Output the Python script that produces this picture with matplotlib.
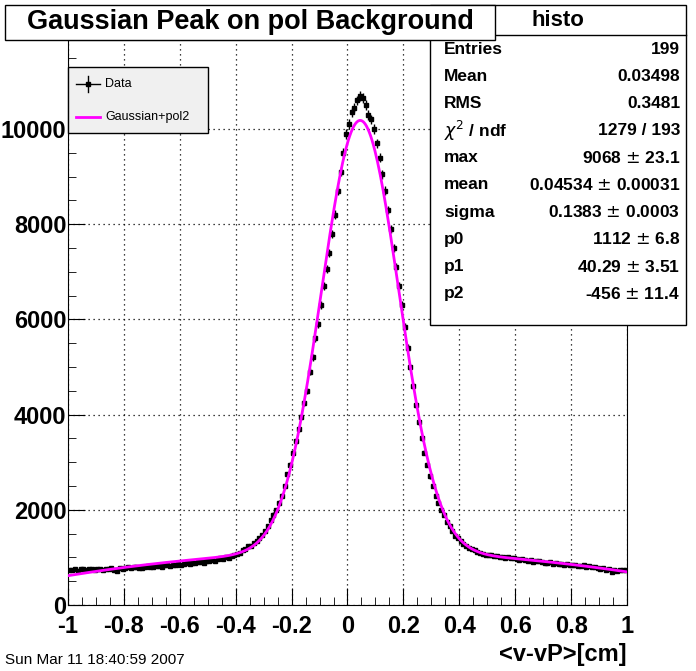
import matplotlib
matplotlib.use("Agg")
import matplotlib.pyplot as plt
import numpy as np
from matplotlib.patches import Rectangle

W, H = 696, 671

# histogram contents, 200 bins of width 0.01 on [-1, 1]
counts = [
    740, 730, 750, 720, 760, 750, 740, 760, 750, 740,
    760, 750, 740, 760, 750, 770, 740, 720, 770, 760,
    780, 790, 770, 800, 790, 780, 770, 800, 810, 790,
    800, 820, 810, 790, 830, 840, 820, 850, 830, 860,
    850, 870, 880, 860, 890, 880, 900, 910, 890, 920,
    930, 950, 920, 960, 980, 970, 1000, 990, 1020, 1050,
    1080, 1100, 1150, 1180, 1230, 1250, 1300, 1350, 1400, 1480,
    1560, 1650, 1780, 1900, 2000, 2150, 2300, 2500, 2750, 2950,
    3200, 3450, 3700, 3950, 4250, 4500, 4900, 5200, 5600, 5900,
    6300, 6700, 7050, 7400, 7800, 8200, 8700, 9100, 9500, 9900,
    10100, 10350, 10450, 10600, 10700, 10650, 10500, 10300, 10200, 10000,
    9700, 9400, 9050, 8700, 8300, 7900, 7500, 7100, 6700, 6300,
    5850, 5400, 5000, 4600, 4200, 3850, 3500, 3200, 2950, 2700,
    2500, 2300, 2150, 2000, 1900, 1750, 1650, 1550, 1450, 1400,
    1350, 1280, 1250, 1200, 1180, 1150, 1120, 1100, 1080, 1060,
    1050, 1040, 1030, 1020, 1010, 1000, 990, 1000, 980, 990,
    960, 950, 970, 940, 920, 950, 900, 930, 920, 910,
    890, 880, 900, 870, 880, 860, 870, 850, 860, 840,
    840, 830, 820, 810, 830, 800, 810, 790, 800, 780,
    760, 770, 740, 750, 690, 740, 720, 730, 740, 730,
]
bin_edges_lo, bin_edges_hi = -1.0, 1.0

# fit parameters from the stats box
fit_max, fit_mean, fit_sigma = 9068, 0.04534, 0.1383
fit_p0, fit_p1, fit_p2 = 1112, 40.29, -456

stats_rows = [
    ("Entries", "199"), ("Mean", "0.03498"), ("RMS", "0.3481"),
    (r"$\chi^2$ / ndf", "1279 / 193"), ("max", r"9068 $\pm$ 23.1"),
    ("mean", r"0.04534 $\pm$ 0.00031"), ("sigma", r"0.1383 $\pm$ 0.0003"),
    ("p0", r"1112 $\pm$ 6.8"), ("p1", r"40.29 $\pm$ 3.51"), ("p2", r"-456 $\pm$ 11.4"),
]

plt.rcParams["font.family"] = ["Liberation Sans", "DejaVu Sans"]
fig = plt.figure(figsize=(W / 100, H / 100), dpi=100)


def fx(px):
    return px / W


def fy(py):
    return 1 - py / H


ax = fig.add_axes([fx(68), fy(605), fx(627) - fx(68), fy(40) - fy(605)])
centers = np.linspace(bin_edges_lo, bin_edges_hi, len(counts) + 1)[:-1] + 0.005
y = np.array(counts, dtype=float)
ax.errorbar(centers, y, yerr=np.sqrt(y), xerr=0.005, fmt="s", ms=3, color="black",
            elinewidth=1, capsize=0, zorder=3)
xf = np.linspace(-1, 1, 400)
yf = fit_max * np.exp(-0.5 * ((xf - fit_mean) / fit_sigma) ** 2) + fit_p0 + fit_p1 * xf + fit_p2 * xf ** 2
ax.plot(xf, yf, color="#ff00ff", lw=2, zorder=4)

ax.set_xlim(-1, 1)
ax.set_ylim(0, 11870)
ax.set_xticks(np.arange(-1, 1.01, 0.2))
ax.set_xticklabels(["-1", "-0.8", "-0.6", "-0.4", "-0.2", "0", "0.2", "0.4", "0.6", "0.8", "1"])
ax.set_yticks(np.arange(0, 11000, 2000))
ax.set_xticks(np.arange(-1, 1.001, 0.05), minor=True)
ax.set_yticks(np.arange(0, 11870, 500), minor=True)
ax.grid(True, which="major", linestyle=(0, (1, 3)), color="black", lw=0.9)
ax.tick_params(which="major", direction="in", length=12, labelsize=17, pad=1)
ax.tick_params(which="minor", direction="in", length=6)
ax.tick_params(axis="x", pad=7)
for lab in ax.get_xticklabels() + ax.get_yticklabels():
    lab.set_fontweight("bold")

fig.text(fx(627), fy(655), "<v-vP>[cm]", ha="right", va="center", fontsize=17, fontweight="bold")
fig.text(fx(5), fy(660), "Sun Mar 11 18:40:59 2007", ha="left", va="center", fontsize=11)

# stats box
fig.patches.append(Rectangle((fx(430), fy(325)), fx(686) - fx(430), fy(5) - fy(325),
                             transform=fig.transFigure, facecolor="white", edgecolor="black", lw=1, zorder=5))
fig.lines.append(plt.Line2D([fx(430), fx(686)], [fy(35), fy(35)], transform=fig.transFigure, color="black", lw=1, zorder=6))
fig.text(fx(558), fy(20), "histo", ha="center", va="center", fontsize=16, fontweight="bold", zorder=6)
for i, (name, val) in enumerate(stats_rows):
    yy = fy(49 + i * 27.2)
    fig.text(fx(444), yy, name, ha="left", va="center", fontsize=12.5, fontweight="bold", zorder=6)
    fig.text(fx(680), yy, val, ha="right", va="center", fontsize=12.5, fontweight="bold", zorder=6)

# title box (drawn over the stats box)
fig.patches.append(Rectangle((fx(5), fy(40)), fx(495) - fx(5), fy(5) - fy(40),
                             transform=fig.transFigure, facecolor="white", edgecolor="black", lw=1, zorder=7))
fig.text(fx(250), fy(22), "Gaussian Peak on pol Background", ha="center", va="center",
         fontsize=19.5, fontweight="bold", zorder=8)

# legend box
fig.patches.append(Rectangle((fx(68), fy(133)), fx(208) - fx(68), fy(67) - fy(133),
                             transform=fig.transFigure, facecolor="#f0f0f0", edgecolor="black", lw=1, zorder=5))
fig.lines.append(plt.Line2D([fx(76), fx(100)], [fy(84), fy(84)], transform=fig.transFigure, color="black", lw=1, zorder=6))
fig.lines.append(plt.Line2D([fx(88), fx(88)], [fy(76), fy(92)], transform=fig.transFigure, color="black", lw=1, zorder=6))
fig.lines.append(plt.Line2D([fx(88)], [fy(84)], transform=fig.transFigure, marker="s", ms=3.5, color="black", zorder=6))
fig.text(fx(105), fy(84), "Data", ha="left", va="center", fontsize=9, zorder=6)
fig.lines.append(plt.Line2D([fx(76), fx(100)], [fy(117), fy(117)], transform=fig.transFigure, color="#ff00ff", lw=2, zorder=6))
fig.text(fx(105), fy(117), "Gaussian+pol2", ha="left", va="center", fontsize=9, zorder=6)

fig.savefig("out.png", dpi=100)
